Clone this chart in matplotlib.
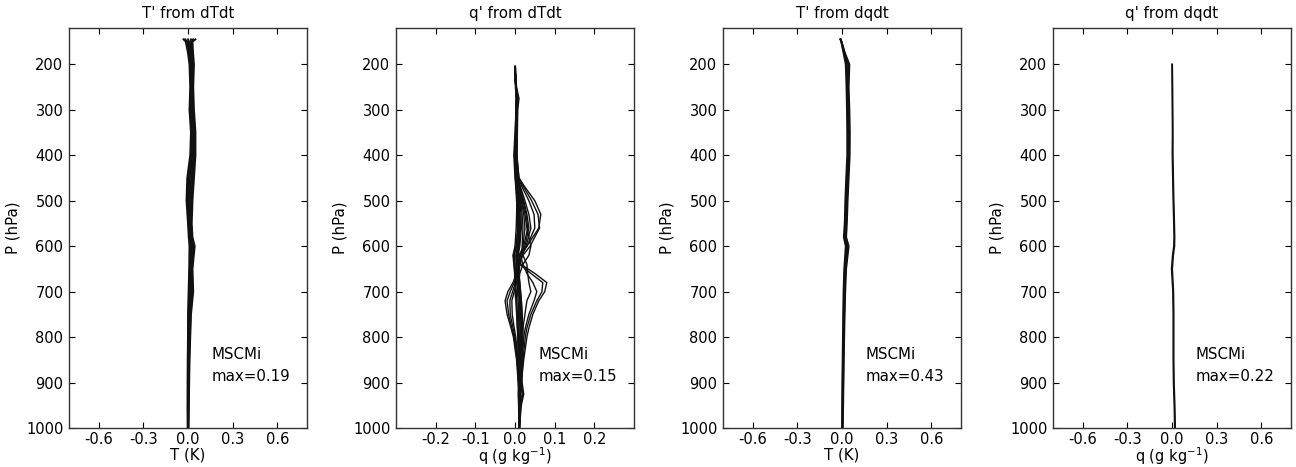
import matplotlib
matplotlib.use("Agg")
import matplotlib.pyplot as plt

# pressure levels (hPa)
p_T = [145, 150, 175, 200, 250, 300, 350, 400, 450, 500, 550, 580, 600,
       650, 700, 750, 800, 850, 900, 950, 1000]
p_q2 = [205, 250, 275, 300, 350, 400, 450, 470, 500, 530, 560, 600, 620,
        640, 660, 680, 700, 720, 750, 780, 800, 850, 900, 925, 950, 1000]
p_q4 = [200, 250, 300, 350, 400, 450, 500, 550, 580, 600, 620, 650, 700,
        750, 800, 850, 900, 950, 1000]

# T' from dTdt (K)
t_dTdt = [
    [-0.030, -0.015, 0.000, 0.010, 0.015, 0.010, 0.020, 0.015, -0.005, -0.010, 0.000,
     0.005, 0.010, 0.008, 0.004, 0.000, 0.000, -0.002, -0.003, -0.003, -0.002],
    [-0.020, -0.005, 0.008, 0.016, 0.020, 0.016, 0.026, 0.022, 0.002, -0.004, 0.005,
     0.010, 0.018, 0.013, 0.010, 0.004, 0.003, 0.001, 0.000, -0.001, -0.001],
    [0.000, 0.005, 0.015, 0.022, 0.025, 0.022, 0.032, 0.030, 0.012, 0.004, 0.010,
     0.015, 0.026, 0.018, 0.017, 0.009, 0.006, 0.004, 0.002, 0.001, 0.000],
    [0.020, 0.015, 0.022, 0.028, 0.029, 0.028, 0.038, 0.038, 0.022, 0.012, 0.015,
     0.020, 0.033, 0.023, 0.024, 0.013, 0.009, 0.006, 0.004, 0.002, 0.001],
    [0.035, 0.025, 0.028, 0.034, 0.032, 0.034, 0.044, 0.045, 0.031, 0.021, 0.020,
     0.025, 0.040, 0.027, 0.030, 0.017, 0.012, 0.008, 0.006, 0.004, 0.002],
    [0.050, 0.030, 0.034, 0.040, 0.035, 0.040, 0.050, 0.050, 0.040, 0.030, 0.025,
     0.030, 0.045, 0.030, 0.035, 0.020, 0.015, 0.010, 0.008, 0.005, 0.003],
]

# q' from dTdt (g/kg)
q_dTdt = [
    # core
    [0.000, 0.002, 0.004, 0.003, 0.000, -0.003, 0.000, 0.002, 0.004, 0.006, 0.006, 0.004, -0.002,
     0.000, 0.002, 0.002, 0.000, 0.002, 0.004, 0.006, 0.008, 0.008, 0.010, 0.012, 0.012, 0.012],
    [0.000, 0.003, 0.008, 0.005, 0.004, 0.002, 0.004, 0.006, 0.008, 0.010, 0.010, 0.008, 0.004,
     0.004, 0.005, 0.006, 0.006, 0.008, 0.009, 0.010, 0.011, 0.012, 0.013, 0.014, 0.012, 0.011],
    [0.001, 0.004, 0.010, 0.007, 0.006, 0.004, 0.007, 0.010, 0.013, 0.015, 0.016, 0.012, 0.008,
     0.006, 0.007, 0.009, 0.010, 0.011, 0.012, 0.013, 0.014, 0.015, 0.016, 0.018, 0.014, 0.010],
    [0.001, 0.003, 0.006, 0.004, 0.002, 0.000, 0.002, 0.004, 0.006, 0.007, 0.008, 0.002, -0.004,
     -0.002, 0.000, 0.001, 0.003, 0.004, 0.006, 0.008, 0.009, 0.010, 0.011, 0.010, 0.010, 0.010],
    [0.000, 0.002, 0.005, 0.006, 0.005, 0.003, 0.005, 0.008, 0.011, 0.012, 0.013, 0.010, 0.006,
     0.008, 0.010, 0.012, 0.014, 0.016, 0.018, 0.018, 0.017, 0.016, 0.018, 0.022, 0.016, 0.011],
    [0.000, 0.001, 0.003, 0.002, 0.001, -0.001, 0.001, 0.003, 0.005, 0.004, 0.003, 0.000, -0.005,
     -0.003, -0.001, 0.000, 0.002, 0.004, 0.005, 0.006, 0.007, 0.008, 0.009, 0.008, 0.009, 0.010],
    # upper bulge
    [0.000, 0.002, 0.005, 0.004, 0.004, 0.004, 0.010, 0.025, 0.050, 0.065, 0.060, 0.030, 0.012,
     0.008, 0.010, 0.012, 0.014, 0.016, 0.018, 0.020, 0.020, 0.018, 0.016, 0.014, 0.013, 0.011],
    [0.000, 0.002, 0.006, 0.005, 0.005, 0.005, 0.010, 0.022, 0.042, 0.058, 0.062, 0.038, 0.020,
     0.010, 0.008, 0.010, 0.012, 0.014, 0.016, 0.018, 0.018, 0.016, 0.015, 0.013, 0.012, 0.011],
    [0.000, 0.003, 0.007, 0.005, 0.005, 0.004, 0.009, 0.018, 0.035, 0.048, 0.050, 0.030, 0.015,
     0.006, 0.004, 0.006, 0.010, 0.012, 0.014, 0.016, 0.016, 0.015, 0.014, 0.012, 0.011, 0.010],
    [0.000, 0.002, 0.005, 0.004, 0.004, 0.004, 0.008, 0.014, 0.025, 0.035, 0.040, 0.028, 0.018,
     0.012, 0.010, 0.011, 0.012, 0.013, 0.014, 0.015, 0.015, 0.014, 0.013, 0.012, 0.011, 0.010],
    [0.000, 0.002, 0.004, 0.003, 0.003, 0.003, 0.007, 0.012, 0.018, 0.025, 0.030, 0.040, 0.035,
     0.020, 0.012, 0.010, 0.010, 0.011, 0.012, 0.013, 0.014, 0.014, 0.013, 0.012, 0.011, 0.010],
    # lower right bulge
    [0.000, 0.002, 0.005, 0.004, 0.003, 0.002, 0.006, 0.012, 0.022, 0.030, 0.035, 0.025, 0.012,
     0.015, 0.050, 0.080, 0.075, 0.060, 0.045, 0.035, 0.030, 0.022, 0.016, 0.013, 0.012, 0.011],
    [0.000, 0.002, 0.005, 0.004, 0.003, 0.002, 0.006, 0.012, 0.020, 0.028, 0.032, 0.022, 0.010,
     0.012, 0.040, 0.070, 0.068, 0.055, 0.040, 0.030, 0.026, 0.020, 0.015, 0.013, 0.012, 0.011],
    [0.000, 0.002, 0.004, 0.003, 0.003, 0.002, 0.005, 0.010, 0.016, 0.022, 0.025, 0.020, 0.014,
     0.020, 0.030, 0.045, 0.055, 0.048, 0.035, 0.026, 0.022, 0.018, 0.014, 0.013, 0.012, 0.011],
    [0.000, 0.002, 0.004, 0.003, 0.002, 0.001, 0.004, 0.008, 0.014, 0.018, 0.020, 0.018, 0.020,
     0.030, 0.032, 0.035, 0.040, 0.030, 0.025, 0.020, 0.018, 0.016, 0.014, 0.020, 0.014, 0.011],
    # left bulge
    [0.000, 0.002, 0.004, 0.003, 0.002, 0.000, 0.002, 0.004, 0.006, 0.008, 0.010, 0.006, 0.002,
     0.003, 0.004, -0.005, -0.018, -0.025, -0.020, -0.010, -0.004, 0.004, 0.008, 0.010, 0.010, 0.010],
    [0.000, 0.002, 0.004, 0.003, 0.002, 0.000, 0.002, 0.005, 0.008, 0.010, 0.012, 0.008, 0.004,
     0.004, 0.005, -0.002, -0.012, -0.020, -0.016, -0.008, -0.002, 0.005, 0.009, 0.010, 0.010, 0.010],
    [0.000, 0.002, 0.004, 0.003, 0.002, 0.001, 0.003, 0.006, 0.009, 0.011, 0.013, 0.009, 0.005,
     0.005, 0.006, 0.001, -0.006, -0.013, -0.012, -0.005, 0.000, 0.006, 0.009, 0.010, 0.010, 0.010],
    [0.000, 0.002, 0.004, 0.003, 0.002, 0.001, 0.003, 0.006, 0.009, 0.012, 0.014, 0.010, 0.006,
     0.006, 0.007, 0.004, -0.002, -0.008, -0.007, -0.002, 0.002, 0.007, 0.010, 0.010, 0.010, 0.010],
]

# T' from dqdt (K)
t_dqdt = [
    [-0.010, -0.005, 0.010, 0.025, 0.030, 0.033, 0.035, 0.035, 0.028, 0.022, 0.018,
     0.012, 0.025, 0.015, 0.010, 0.008, 0.006, 0.004, 0.002, 0.001, 0.000],
    [-0.010, -0.004, 0.014, 0.033, 0.036, 0.039, 0.041, 0.041, 0.034, 0.028, 0.023,
     0.018, 0.032, 0.019, 0.014, 0.011, 0.009, 0.007, 0.005, 0.003, 0.002],
    [-0.010, -0.004, 0.017, 0.042, 0.040, 0.044, 0.048, 0.047, 0.040, 0.033, 0.028,
     0.023, 0.039, 0.024, 0.018, 0.015, 0.012, 0.010, 0.008, 0.006, 0.004],
    [-0.010, -0.003, 0.020, 0.050, 0.045, 0.050, 0.053, 0.052, 0.045, 0.038, 0.033,
     0.028, 0.045, 0.028, 0.022, 0.018, 0.015, 0.012, 0.010, 0.008, 0.005],
]

# q' from dqdt (g/kg)
q_dqdt = [
    [0.000, 0.001, 0.002, 0.003, 0.002, 0.005, 0.008, 0.012, 0.014, 0.012, 0.004,
     -0.003, 0.006, 0.008, 0.008, 0.008, 0.010, 0.015, 0.018],
    [0.002, 0.004, 0.005, 0.006, 0.006, 0.009, 0.012, 0.016, 0.018, 0.017, 0.009,
     0.002, 0.010, 0.012, 0.012, 0.012, 0.014, 0.019, 0.022],
]

titles = ["T' from dTdt", "q' from dTdt", "T' from dqdt", "q' from dqdt"]
xlabels = ["T (K)", "q (g kg$^{-1}$)", "T (K)", "q (g kg$^{-1}$)"]
maxvals = ["0.19", "0.15", "0.43", "0.22"]
xticks_T = [-0.6, -0.3, 0.0, 0.3, 0.6]
xticks_q = [-0.2, -0.1, 0.0, 0.1, 0.2]
yticks = [200, 300, 400, 500, 600, 700, 800, 900, 1000]

panels = [(p_T, t_dTdt, 0.8, xticks_T, 1.4),
          (p_q2, q_dTdt, 0.3, xticks_q, 1.0),
          (p_T, t_dqdt, 0.8, xticks_T, 1.3),
          (p_q4, q_dqdt, 0.8, xticks_T, 1.1)]

lefts = [69, 396, 723, 1053]
W, H = 1296, 467

fig = plt.figure(figsize=(W / 100, H / 100), dpi=100)

for i, (pres, lines, xl, xt, lw) in enumerate(panels):
    ax = fig.add_axes([lefts[i] / W, 39 / H, 238 / W, 400 / H])
    for prof in lines:
        ax.plot(prof, pres, color='#111111', lw=lw)
    ax.set_xlim(-xl, xl)
    ax.set_ylim(1000, 120)
    ax.set_xticks(xt)
    ax.set_xticklabels(["%.1f" % v for v in xt])
    ax.set_yticks(yticks)
    ax.tick_params(direction='in', top=True, right=True, length=4, width=0.8,
                   labelsize=10.5)
    ax.tick_params(axis='x', pad=3)
    ax.tick_params(axis='y', pad=4)
    for s in ax.spines.values():
        s.set_linewidth(1.0)
        s.set_color('#333333')
    ax.set_title(titles[i], fontsize=10.8, pad=7)
    if '$' in xlabels[i]:
        ax.set_xlabel(xlabels[i], fontsize=10.5, labelpad=-1.5)
    else:
        ax.set_xlabel(xlabels[i], fontsize=10.8, labelpad=0)
    ax.set_ylabel('P (hPa)', fontsize=10.8, labelpad=4)
    ax.text(0.6, 0.11, 'MSCMi\nmax=' + maxvals[i], transform=ax.transAxes,
            fontsize=10.8, va='bottom', ha='left', linespacing=1.6)

fig.savefig('out.png', dpi=100)
